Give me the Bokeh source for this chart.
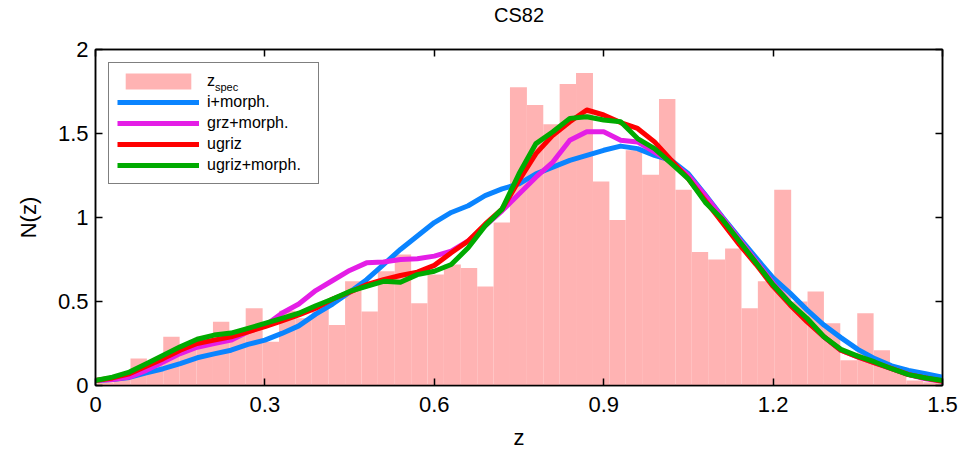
from bokeh.plotting import figure
from bokeh.models import Range1d, FixedTicker, LinearAxis, Legend, LegendItem, ColumnDataSource
from bokeh.core.properties import value
from bokeh.embed import file_html
from bokeh.resources import INLINE

# ---------------- data ----------------
z_edges = [0.003, 0.032, 0.062, 0.091, 0.120, 0.149, 0.179, 0.208, 0.237, 0.266,
           0.296, 0.325, 0.354, 0.383, 0.413, 0.442, 0.471, 0.500, 0.530, 0.559,
           0.588, 0.617, 0.647, 0.676, 0.705, 0.734, 0.764, 0.793, 0.822, 0.851,
           0.881, 0.910, 0.939, 0.968, 0.998, 1.027, 1.056, 1.085, 1.115, 1.144,
           1.173, 1.202, 1.232, 1.261, 1.290, 1.319, 1.349, 1.378, 1.407, 1.436,
           1.466, 1.495]
zspec_counts = [0.02, 0.06, 0.16, 0.14, 0.29, 0.24, 0.29, 0.38, 0.30, 0.46,
                0.26, 0.445, 0.40, 0.46, 0.36, 0.62, 0.44, 0.68, 0.78, 0.49,
                0.66, 0.72, 0.70, 0.59, 0.97, 1.775, 1.67, 1.555, 1.795, 1.86,
                1.215, 0.985, 1.40, 1.255, 1.705, 1.165, 0.795, 0.75, 0.815, 0.46,
                0.62, 1.165, 0.50, 0.56, 0.37, 0.15, 0.43, 0.21, 0.11, 0.03,
                0.02]

z_grid = [0.00, 0.03, 0.06, 0.09, 0.12, 0.15, 0.18, 0.21, 0.24, 0.27,
          0.30, 0.33, 0.36, 0.39, 0.42, 0.45, 0.48, 0.51, 0.54, 0.57,
          0.60, 0.63, 0.66, 0.69, 0.72, 0.75, 0.78, 0.81, 0.84, 0.87,
          0.90, 0.93, 0.96, 0.99, 1.02, 1.05, 1.08, 1.11, 1.14, 1.17,
          1.20, 1.23, 1.26, 1.29, 1.32, 1.35, 1.38, 1.41, 1.44, 1.47,
          1.50]
n_i_morph = [0.03, 0.035, 0.048, 0.075, 0.10, 0.13, 0.165, 0.188, 0.21, 0.245,
             0.27, 0.31, 0.355, 0.425, 0.485, 0.555, 0.63, 0.72, 0.81, 0.89,
             0.97, 1.03, 1.07, 1.13, 1.17, 1.20, 1.26, 1.30, 1.34, 1.37,
             1.40, 1.425, 1.41, 1.37, 1.34, 1.26, 1.135, 1.005, 0.88, 0.76,
             0.64, 0.55, 0.45, 0.36, 0.285, 0.215, 0.16, 0.117, 0.09, 0.07,
             0.05]
n_grz_morph = [0.03, 0.035, 0.05, 0.09, 0.14, 0.19, 0.228, 0.25, 0.27, 0.32,
               0.355, 0.43, 0.485, 0.565, 0.625, 0.685, 0.73, 0.735, 0.75, 0.755,
               0.77, 0.80, 0.86, 0.95, 1.04, 1.14, 1.24, 1.33, 1.46, 1.51,
               1.51, 1.46, 1.45, 1.39, 1.33, 1.25, 1.13, 1.00, 0.87, 0.74,
               0.61, 0.49, 0.39, 0.29, 0.21, 0.17, 0.135, 0.10, 0.065, 0.04,
               0.025]
n_ugriz = [0.03, 0.045, 0.07, 0.115, 0.16, 0.21, 0.25, 0.27, 0.29, 0.32,
           0.35, 0.385, 0.42, 0.46, 0.515, 0.555, 0.60, 0.63, 0.655, 0.675,
           0.715, 0.79, 0.86, 0.96, 1.05, 1.22, 1.38, 1.49, 1.57, 1.64,
           1.61, 1.565, 1.53, 1.45, 1.34, 1.23, 1.10, 0.97, 0.84, 0.72,
           0.59, 0.48, 0.38, 0.29, 0.21, 0.17, 0.135, 0.10, 0.065, 0.045,
           0.025]
n_ugriz_morph = [0.03, 0.05, 0.08, 0.13, 0.18, 0.23, 0.275, 0.30, 0.312, 0.34,
                 0.37, 0.40, 0.43, 0.475, 0.515, 0.56, 0.59, 0.62, 0.615, 0.66,
                 0.68, 0.72, 0.82, 0.95, 1.05, 1.26, 1.44, 1.51, 1.59, 1.60,
                 1.58, 1.57, 1.47, 1.41, 1.32, 1.23, 1.09, 0.99, 0.86, 0.73,
                 0.60, 0.49, 0.40, 0.29, 0.215, 0.175, 0.14, 0.10, 0.065, 0.045,
                 0.03]

x_ticks = [0, 0.3, 0.6, 0.9, 1.2, 1.5]
x_tick_labels = ["0", "0.3", "0.6", "0.9", "1.2", "1.5"]
y_ticks = [0, 0.5, 1, 1.5, 2]
y_tick_labels = ["0", "0.5", "1", "1.5", "2"]

series_labels = ["i+morph.", "grz+morph.", "ugriz", "ugriz+morph."]
series_colors = ["#0A84FF", "#E41EE6", "#FF0000", "#00AA00"]
title_text = "CS82"

FONT = "Liberation Sans"

# ---------------- figure ----------------
p = figure(width=963, height=453, output_backend="svg", toolbar_location=None,
           x_range=Range1d(0, 1.5), y_range=Range1d(0, 2),
           min_border_left=95, min_border_right=21, min_border_top=48,
           min_border_bottom=68)

p.grid.visible = False
p.outline_line_color = "black"
p.outline_line_width = 1.5
p.background_fill_color = "white"
p.border_fill_color = "white"

src_hist = ColumnDataSource(dict(left=z_edges[:-1], right=z_edges[1:], top=zspec_counts))
r_hist = p.quad(left="left", right="right", bottom=0, top="top", source=src_hist,
                fill_color="#FFB3B3", line_color=None)

series = [n_i_morph, n_grz_morph, n_ugriz, n_ugriz_morph]
line_renderers = []
for vals, col in zip(series, series_colors):
    r = p.line(z_grid, vals, line_color=col, line_width=5, line_join="round")
    line_renderers.append(r)

# axes
def style_axis(ax, ticks, labels, show_labels=True):
    ax.ticker = FixedTicker(ticks=ticks)
    ax.major_label_overrides = {t: l for t, l in zip(ticks, labels)}
    ax.major_tick_in = 7
    ax.major_tick_out = 0
    ax.minor_tick_line_color = None
    ax.axis_line_color = "black"
    ax.axis_line_width = 1.5
    ax.major_tick_line_color = "black"
    ax.major_tick_line_width = 1.5
    ax.major_label_text_font = FONT
    ax.major_label_text_font_size = "22px" if show_labels else "0px"
    ax.major_label_text_color = "black"
    ax.axis_label_text_color = "black"

xa = p.xaxis[0]
style_axis(xa, x_ticks, x_tick_labels)
xa.axis_label = "z"
xa.axis_label_text_font = FONT
xa.axis_label_text_font_size = "22px"
xa.axis_label_text_font_style = "normal"
xa.major_label_standoff = 11
xa.axis_label_standoff = 10

ya = p.yaxis[0]
style_axis(ya, y_ticks, y_tick_labels)
ya.axis_label = "N(z)"
ya.axis_label_text_font = FONT
ya.axis_label_text_font_size = "22px"
ya.axis_label_text_font_style = "normal"
ya.major_label_standoff = 7
ya.axis_label_standoff = 14

# top axis: mirrored ticks, carries the chart title
top_ax = LinearAxis()
style_axis(top_ax, x_ticks, ["" for _ in x_ticks], show_labels=False)
top_ax.major_label_standoff = 0
top_ax.axis_label = title_text
top_ax.axis_label_text_font = FONT
top_ax.axis_label_text_font_size = "20px"
top_ax.axis_label_text_font_style = "normal"
top_ax.axis_label_standoff = 24
p.add_layout(top_ax, "above")

right_ax = LinearAxis()
style_axis(right_ax, y_ticks, ["" for _ in y_ticks], show_labels=False)
right_ax.major_label_standoff = 0
p.add_layout(right_ax, "right")

# legend
items = [LegendItem(label="z", renderers=[r_hist])]
for lab, r in zip(series_labels, line_renderers):
    items.append(LegendItem(label=lab, renderers=[r]))
legend = Legend(items=items, location="top_left", margin=13, padding=8, spacing=1,
                glyph_width=82, glyph_height=20, label_standoff=8,
                label_text_font=FONT, label_text_font_size="16px",
                label_text_color="black",
                border_line_color="black", border_line_width=1.5,
                background_fill_alpha=0.0,
                label_width=103)
p.add_layout(legend, "center")

# subscript of the first legend entry (z_spec)
sub_src = ColumnDataSource(dict(x=[0.2115], y=[1.775], t=["spec"]))
p.text(x="x", y="y", text="t", source=sub_src, text_font=value(FONT),
       text_font_size="11px", text_color="black", text_baseline="middle",
       text_align="left")

open("out.html", "w").write(file_html(p, INLINE))
